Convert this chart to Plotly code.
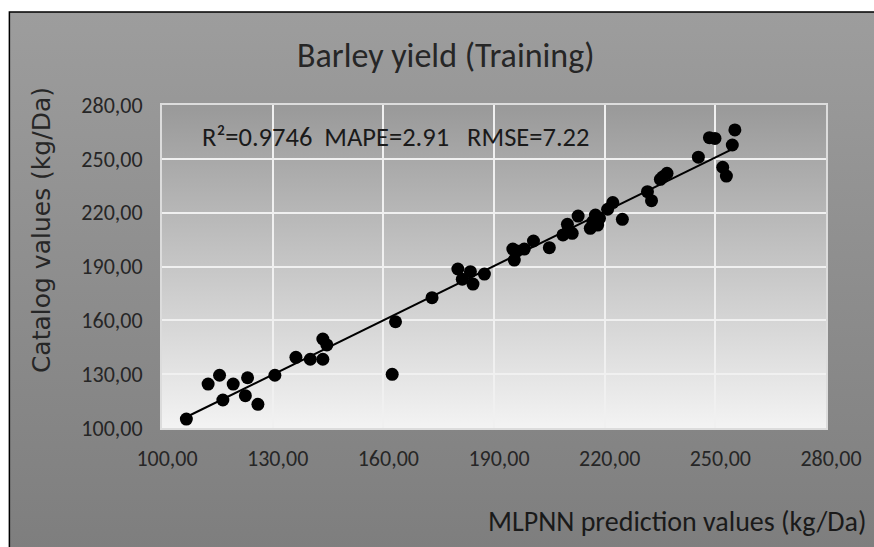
import base64
import numpy as np
import plotly.graph_objects as go

# ---- data ----
pred_x = [106.6, 112.5, 115.6, 116.5, 119.3, 123.2, 122.6, 126.0, 130.6, 136.3,
          140.2, 143.6, 143.6, 144.7, 162.4, 163.3, 173.2, 180.2, 181.4, 183.6,
          184.3, 187.4, 195.1, 195.5, 196.2, 198.2, 200.7, 205.0, 208.7, 209.9,
          210.2, 211.2, 212.8, 216.1, 216.8, 217.5, 218.1, 218.6, 220.8, 222.2,
          224.8, 231.6, 232.7, 235.1, 235.8, 236.9, 245.4, 248.4, 249.9, 252.0,
          253.0, 254.6, 255.3]
catalog_y = [105.0, 124.5, 129.4, 115.6, 124.5, 128.0, 118.0, 113.2, 129.4, 139.4,
             138.3, 138.3, 149.6, 146.3, 129.9, 159.2, 172.6, 188.6, 182.9, 187.1,
             180.2, 185.8, 199.7, 193.6, 198.6, 199.7, 204.2, 200.5, 207.6, 213.5,
             210.3, 208.5, 218.1, 211.3, 215.0, 218.7, 213.1, 216.9, 221.9, 225.6,
             216.3, 231.7, 226.7, 238.6, 240.0, 241.9, 250.9, 261.8, 261.4, 245.3,
             240.4, 257.7, 266.1]
tick_vals = [100, 130, 160, 190, 220, 250, 280]
tick_text = ["100,00", "130,00", "160,00", "190,00", "220,00", "250,00", "280,00"]
title_text = "Barley yield (Training)"
stats_text = "R²=0.9746\u00a0\u00a0MAPE=2.91\u00a0\u00a0\u00a0RMSE=7.22"
x_title = "MLPNN prediction values (kg/Da)"
y_title = "Catalog values (kg/Da)"

# ---- layout geometry ----
W, H = 874, 547
L, R, T, B = 162, 832, 105, 428


def px(xp):
    return (xp - L) / (R - L)


def py(yp):
    return (B - yp) / (B - T)


def grad(c1, c2):
    svg = ('<svg xmlns="http://www.w3.org/2000/svg" width="100" height="100" '
           'preserveAspectRatio="none"><defs><linearGradient id="g" x1="0" y1="0" '
           'x2="0" y2="1"><stop offset="0" stop-color="%s"/><stop offset="1" '
           'stop-color="%s"/></linearGradient></defs><rect width="100" height="100" '
           'fill="url(#g)"/></svg>') % (c1, c2)
    return "data:image/svg+xml;base64," + base64.b64encode(svg.encode()).decode()


FONT = "Carlito, Liberation Sans Narrow, Open Sans, sans-serif"

# trendline (least squares over the data)
slope, icpt = np.polyfit(pred_x, catalog_y, 1)
tx = [min(pred_x), max(pred_x)]
ty = [slope * v + icpt for v in tx]

fig = go.Figure()
fig.add_trace(go.Scatter(x=tx, y=ty, mode="lines",
                         line=dict(color="black", width=2), hoverinfo="skip"))
fig.add_trace(go.Scatter(x=pred_x, y=catalog_y, mode="markers",
                         marker=dict(color="black", size=13)))

fig.update_layout(
    width=W, height=H,
    margin=dict(l=L, r=W - R, t=T, b=H - B),
    paper_bgcolor="white",
    plot_bgcolor="rgba(0,0,0,0)",
    showlegend=False,
    images=[
        dict(source=grad("#9d9d9d", "#7d7d7d"), xref="paper", yref="paper",
             x=px(8), y=py(12), sizex=px(W + 20) - px(8), sizey=py(12) - py(H + 20),
             sizing="stretch", layer="below", xanchor="left", yanchor="top"),
        dict(source=grad("#999999", "#f3f3f3"), xref="paper", yref="paper",
             x=0, y=1, sizex=1, sizey=1, sizing="stretch", layer="below",
             xanchor="left", yanchor="top"),
    ],
    shapes=[
        dict(type="rect", xref="paper", yref="paper", x0=px(8), y0=py(12),
             x1=px(W + 20), y1=py(H + 20), line=dict(color="black", width=1.5),
             fillcolor="rgba(0,0,0,0)", layer="above"),
    ],
    xaxis=dict(range=[100, 280], tickvals=tick_vals, ticktext=tick_text,
               showgrid=True, gridcolor="#f0f0f0", gridwidth=1.5, zeroline=False,
               showline=True, mirror=True, linecolor="#dcdcdc", linewidth=2,
               ticks="outside", ticklen=10, tickcolor="rgba(0,0,0,0)",
               tickfont=dict(family=FONT, size=22, color="#262626"),
               ticklabelshift=5),
    yaxis=dict(range=[100, 280], tickvals=tick_vals, ticktext=tick_text,
               showgrid=True, gridcolor="#f0f0f0", gridwidth=1.5, zeroline=False,
               showline=True, mirror=True, linecolor="#dcdcdc", linewidth=2,
               ticks="outside", ticklen=13, tickcolor="rgba(0,0,0,0)",
               tickfont=dict(family=FONT, size=22, color="#262626")),
    annotations=[
        dict(text=title_text, xref="paper", yref="paper", x=px(449), y=py(55),
             xanchor="center", yanchor="middle", showarrow=False,
             font=dict(family=FONT, size=34, color="#262626")),
        dict(text=stats_text, xref="paper", yref="paper", x=px(200), y=py(137),
             xanchor="left", yanchor="middle", showarrow=False,
             font=dict(family=FONT, size=26.5, color="#1a1a1a")),
        dict(text=x_title, xref="paper", yref="paper", x=px(489), y=py(521),
             xanchor="left", yanchor="middle", showarrow=False,
             font=dict(family=FONT, size=28, color="#1a1a1a")),
        dict(text=y_title, xref="paper", yref="paper", x=px(40), y=py(230),
             xanchor="center", yanchor="middle", showarrow=False, textangle=-90,
             font=dict(family="DejaVu Sans", size=25, color="#262626")),
    ],
)

fig.write_html("out.html", config={"displayModeBar": False},
               post_script="document.body.style.margin='0';")
